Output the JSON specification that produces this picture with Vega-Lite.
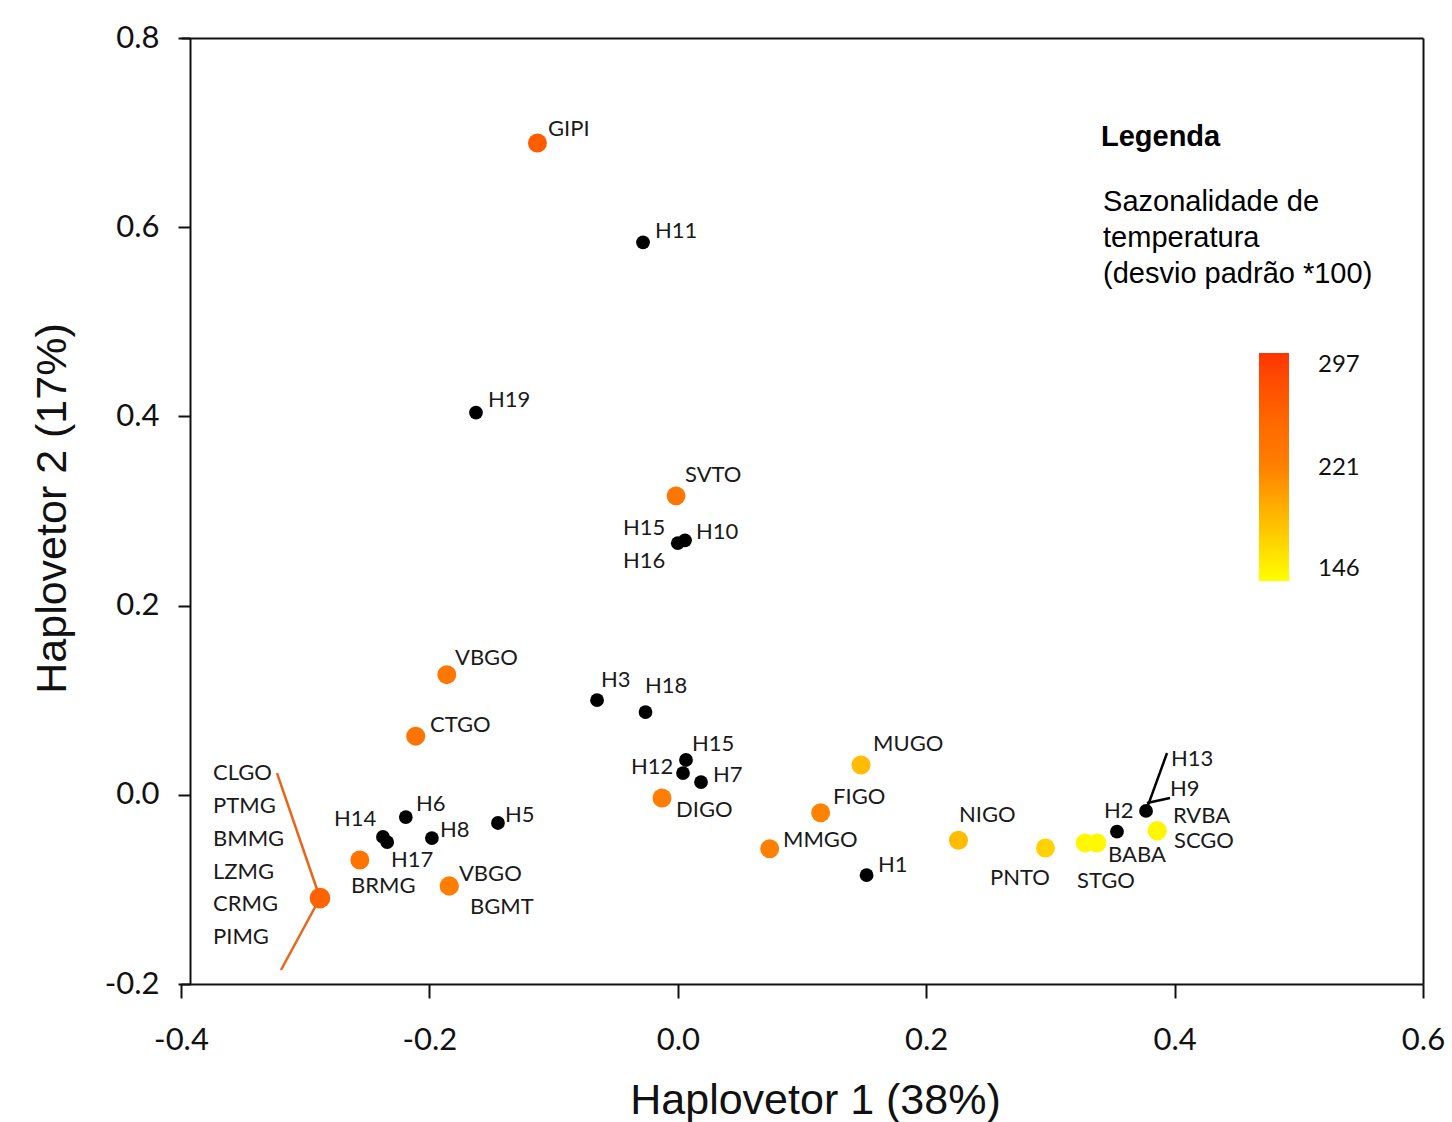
{
  "$schema": "https://vega.github.io/schema/vega-lite/v6.json",
  "width": 1242,
  "height": 946,
  "autosize": {"type": "none"},
  "padding": {"left": 181, "top": 38, "right": 29, "bottom": 138},
  "background": "white",
  "config": {"view": {"stroke": null}, "axis": {"grid": false}},
  "datasets": {
    "pops": [
      {"name": "GIPI", "x": -0.113, "y": 0.689, "temp": 262, "n": 1},
      {"name": "SVTO", "x": -0.0014, "y": 0.316, "temp": 234, "n": 1},
      {"name": "VBGO", "x": -0.186, "y": 0.127, "temp": 234, "n": 1},
      {"name": "CTGO", "x": -0.211, "y": 0.062, "temp": 236, "n": 1},
      {"name": "DIGO", "x": -0.0127, "y": -0.0034, "temp": 226, "n": 1},
      {"name": "MUGO", "x": 0.1475, "y": 0.0315, "temp": 186, "n": 1},
      {"name": "FIGO", "x": 0.115, "y": -0.019, "temp": 220, "n": 1},
      {"name": "MMGO", "x": 0.074, "y": -0.057, "temp": 222, "n": 1},
      {"name": "NIGO", "x": 0.226, "y": -0.048, "temp": 186, "n": 1},
      {"name": "PNTO", "x": 0.296, "y": -0.0563, "temp": 173, "n": 1},
      {"name": "STGO", "x": 0.328, "y": -0.051, "temp": 150, "n": 1},
      {"name": "BABA", "x": 0.3375, "y": -0.051, "temp": 150, "n": 1},
      {"name": "RVBA/SCGO", "x": 0.386, "y": -0.038, "temp": 151, "n": 2},
      {"name": "CLGO/PTMG/BMMG/LZMG/CRMG/PIMG", "x": -0.2881, "y": -0.1091, "temp": 256, "n": 6},
      {"name": "BRMG", "x": -0.256, "y": -0.069, "temp": 236, "n": 1},
      {"name": "VBGO/BGMT", "x": -0.184, "y": -0.0964, "temp": 226, "n": 2}
    ],
    "haps": [
      {"name": "H11", "x": -0.028, "y": 0.584},
      {"name": "H19", "x": -0.1625, "y": 0.404},
      {"name": "H15/H16", "x": 0.0, "y": 0.266},
      {"name": "H10", "x": 0.0058, "y": 0.269},
      {"name": "H3", "x": -0.065, "y": 0.1},
      {"name": "H18", "x": -0.026, "y": 0.0875},
      {"name": "H15", "x": 0.0066, "y": 0.0368},
      {"name": "H12", "x": 0.0042, "y": 0.023},
      {"name": "H7", "x": 0.0187, "y": 0.0135},
      {"name": "H1", "x": 0.152, "y": -0.085},
      {"name": "H2", "x": 0.3536, "y": -0.039},
      {"name": "H13/H9", "x": 0.377, "y": -0.017},
      {"name": "H14", "x": -0.2374, "y": -0.0446},
      {"name": "H17", "x": -0.234, "y": -0.05},
      {"name": "H6", "x": -0.219, "y": -0.0235},
      {"name": "H8", "x": -0.198, "y": -0.0457},
      {"name": "H5", "x": -0.1448, "y": -0.0298}
    ],
    "labels": [
      {"label": "GIPI", "x": -0.1045, "y": 0.7038},
      {"label": "H11", "x": -0.0184, "y": 0.596},
      {"label": "H19", "x": -0.1528, "y": 0.4173},
      {"label": "SVTO", "x": 0.0058, "y": 0.3381},
      {"label": "H15", "x": -0.0441, "y": 0.282},
      {"label": "H16", "x": -0.0441, "y": 0.2471},
      {"label": "H10", "x": 0.0147, "y": 0.2778},
      {"label": "VBGO", "x": -0.1794, "y": 0.1446},
      {"label": "CTGO", "x": -0.1995, "y": 0.0738},
      {"label": "H3", "x": -0.0618, "y": 0.1214},
      {"label": "H18", "x": -0.0264, "y": 0.115},
      {"label": "H15", "x": 0.0114, "y": 0.0537},
      {"label": "H12", "x": -0.0377, "y": 0.0294},
      {"label": "H7", "x": 0.0283, "y": 0.0209},
      {"label": "DIGO", "x": -0.0014, "y": -0.0161},
      {"label": "MUGO", "x": 0.1572, "y": 0.0537},
      {"label": "FIGO", "x": 0.125, "y": -0.0023},
      {"label": "MMGO", "x": 0.0847, "y": -0.0478},
      {"label": "H1", "x": 0.1612, "y": -0.0742},
      {"label": "NIGO", "x": 0.2264, "y": -0.0214},
      {"label": "PNTO", "x": 0.2514, "y": -0.0879},
      {"label": "STGO", "x": 0.3214, "y": -0.0911},
      {"label": "BABA", "x": 0.3464, "y": -0.0636},
      {"label": "H2", "x": 0.3432, "y": -0.0171},
      {"label": "H13", "x": 0.3971, "y": 0.0378},
      {"label": "H9", "x": 0.3963, "y": 0.0061},
      {"label": "RVBA", "x": 0.3987, "y": -0.0222},
      {"label": "SCGO", "x": 0.3995, "y": -0.0488},
      {"label": "CLGO", "x": -0.3742, "y": 0.023},
      {"label": "PTMG", "x": -0.3742, "y": -0.0118},
      {"label": "BMMG", "x": -0.3742, "y": -0.0467},
      {"label": "LZMG", "x": -0.3742, "y": -0.0816},
      {"label": "CRMG", "x": -0.3742, "y": -0.1154},
      {"label": "PIMG", "x": -0.3742, "y": -0.1503},
      {"label": "H14", "x": -0.2768, "y": -0.0256},
      {"label": "H6", "x": -0.2108, "y": -0.0097},
      {"label": "H8", "x": -0.1915, "y": -0.0372},
      {"label": "H5", "x": -0.1391, "y": -0.0214},
      {"label": "H17", "x": -0.2309, "y": -0.0689},
      {"label": "BRMG", "x": -0.2631, "y": -0.0964},
      {"label": "VBGO", "x": -0.1762, "y": -0.0837},
      {"label": "BGMT", "x": -0.1673, "y": -0.1186}
    ],
    "leaders": [
      {"kind": "pop", "x": -0.2881, "y": -0.1091, "x2": -0.3227, "y2": 0.023},
      {"kind": "pop", "x": -0.2881, "y": -0.1091, "x2": -0.3195, "y2": -0.1852},
      {"kind": "hap", "x": 0.377, "y": -0.017, "x2": 0.3939, "y2": 0.0442},
      {"kind": "hap", "x": 0.3778, "y": -0.0087, "x2": 0.3963, "y2": -0.0034}
    ],
    "notes": [
      {"kind": "head", "x": 0.3407, "y": 0.6953, "text": "Legenda"},
      {"kind": "body", "x": 0.3424, "y": 0.6414, "text": "Sazonalidade de\ntemperatura\n(desvio padrão *100)"}
    ]
  },
  "layer": [
    {
      "encoding": {
        "x": {
          "field": "x", "type": "quantitative",
          "scale": {"domain": [-0.4, 0.6], "nice": false, "zero": false},
          "axis": {
            "orient": "bottom", "values": [-0.4, -0.2, 0, 0.2, 0.4, 0.6],
            "labelExpr": "(datum.value < 0 ? '-' : '') + format(abs(datum.value), '.1f')",
            "labelFont": "Lato", "labelFontSize": 31, "labelColor": "#111",
            "labelPadding": 27, "labelFlush": false, "labelOverlap": false,
            "tickSize": 14, "tickWidth": 2, "tickColor": "#111",
            "domainColor": "#111", "domainWidth": 2, "grid": false,
            "title": "Haplovetor 1 (38%)", "titleFont": "Liberation Sans",
            "titleFontSize": 43, "titleFontWeight": "normal", "titleColor": "#111",
            "titleX": 634, "titleY": 129, "titleBaseline": "alphabetic", "titleAlign": "center"
          }
        },
        "y": {
          "field": "y", "type": "quantitative",
          "scale": {"domain": [-0.2, 0.8], "nice": false, "zero": false},
          "axis": {
            "orient": "left", "offset": -9, "values": [-0.2, 0, 0.2, 0.4, 0.6, 0.8],
            "labelExpr": "(datum.value < 0 ? '-' : '') + format(abs(datum.value), '.1f')",
            "labelFont": "Lato", "labelFontSize": 31, "labelColor": "#111",
            "labelPadding": 19, "labelFlush": false, "labelOverlap": false,
            "tickSize": 12, "tickWidth": 2, "tickColor": "#111",
            "domainColor": "#111", "domainWidth": 2, "grid": false,
            "title": "Haplovetor 2 (17%)", "titleFont": "Liberation Sans",
            "titleFontSize": 43, "titleFontWeight": "normal", "titleColor": "#111",
            "titleX": -125, "titleY": 470, "titleAngle": -90,
            "titleBaseline": "alphabetic", "titleAlign": "center"
          }
        }
      },
      "layer": [
        {
          "data": {"name": "leaders"},
          "transform": [{"filter": "datum.kind === 'pop'"}],
          "mark": {"type": "rule", "color": "#e8661a", "strokeWidth": 2.5},
          "encoding": {"x2": {"field": "x2"}, "y2": {"field": "y2"}}
        },
        {
          "data": {"name": "leaders"},
          "transform": [{"filter": "datum.kind === 'hap'"}],
          "mark": {"type": "rule", "color": "#000000", "strokeWidth": 2.5},
          "encoding": {"x2": {"field": "x2"}, "y2": {"field": "y2"}}
        },
        {
          "data": {"name": "pops"},
          "mark": {"type": "circle", "opacity": 1},
          "encoding": {
            "color": {
              "field": "temp", "type": "quantitative",
              "scale": {"domain": [146, 221.5, 297], "range": ["#ffff00", "#ff8000", "#ff3300"]},
              "legend": {
                "orient": "none", "legendX": 1078, "legendY": 315, "title": null,
                "direction": "vertical", "gradientLength": 228, "gradientThickness": 30,
                "values": [146, 221, 297], "labelFont": "Lato", "labelFontSize": 24,
                "labelColor": "#111", "labelOffset": 29, "gradientStrokeWidth": 0, "padding": 0
              }
            },
            "size": {
              "field": "n", "type": "quantitative",
              "scale": {"domain": [1, 6], "range": [360, 430]},
              "legend": null
            }
          }
        },
        {
          "data": {"name": "haps"},
          "mark": {"type": "circle", "color": "#000000", "opacity": 1, "size": 190}
        },
        {
          "data": {"name": "labels"},
          "mark": {"type": "text", "align": "left", "baseline": "middle", "font": "Lato", "fontSize": 22, "color": "#1a1a1a"},
          "encoding": {"text": {"field": "label"}}
        }
      ]
    },
    {
      "encoding": {
        "x": {
          "field": "x", "type": "quantitative",
          "scale": {"domain": [-0.4, 0.6], "nice": false, "zero": false},
          "axis": {"orient": "top", "domain": true, "domainWidth": 2, "domainColor": "#111", "ticks": false, "labels": false, "title": null, "grid": false}
        },
        "y": {
          "field": "y", "type": "quantitative",
          "scale": {"domain": [-0.2, 0.8], "nice": false, "zero": false},
          "axis": {"orient": "right", "domain": true, "domainWidth": 2, "domainColor": "#111", "ticks": false, "labels": false, "title": null, "grid": false}
        }
      },
      "layer": [
        {
          "data": {"name": "notes"},
          "transform": [{"filter": "datum.kind === 'head'"}],
          "mark": {"type": "text", "align": "left", "baseline": "middle", "font": "Liberation Sans", "fontSize": 29, "fontWeight": "bold", "color": "#000000"},
          "encoding": {"text": {"field": "text"}}
        },
        {
          "data": {"name": "notes"},
          "transform": [{"filter": "datum.kind === 'body'"}],
          "mark": {"type": "text", "align": "left", "baseline": "top", "font": "Liberation Sans", "fontSize": 29, "lineHeight": 36, "lineBreak": "\n", "color": "#000000"},
          "encoding": {"text": {"field": "text"}}
        }
      ]
    }
  ],
  "resolve": {"axis": {"x": "independent", "y": "independent"}}
}
